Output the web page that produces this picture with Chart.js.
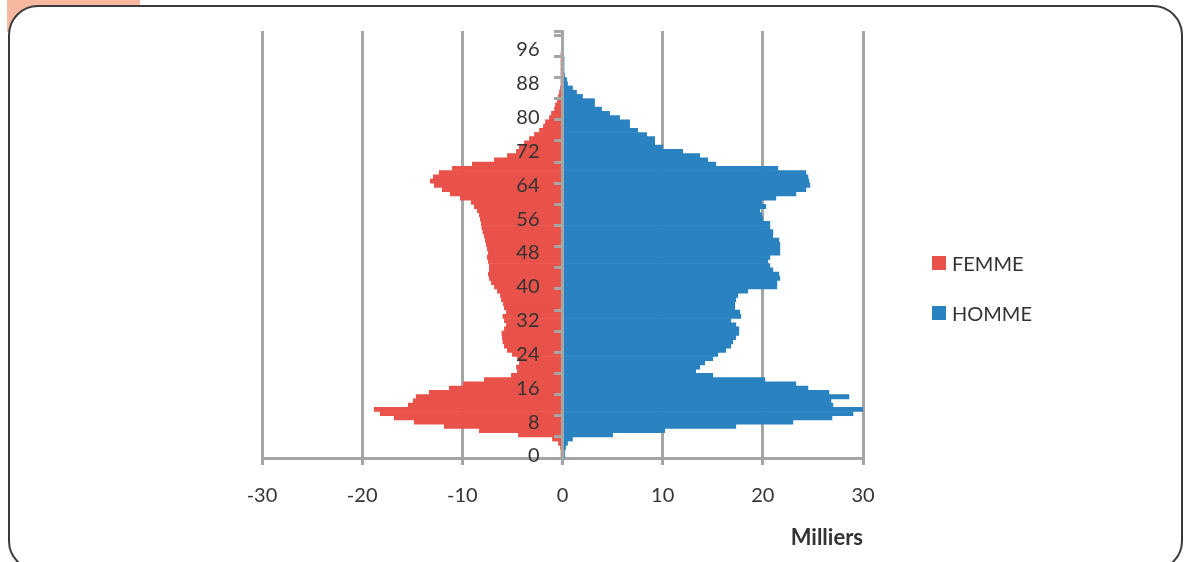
<!DOCTYPE html>
<html>
<head>
<meta charset="utf-8">
<title>Pyramide des âges</title>
<script src="https://cdn.jsdelivr.net/npm/chart.js@4.4.1/dist/chart.umd.min.js"></script>
<style>
  html, body { margin: 0; padding: 0; background: #ffffff; }
  #wrap { position: relative; width: 1190px; height: 562px; overflow: hidden; background: #ffffff; }
  #tab { position: absolute; left: 7px; top: 0; width: 133px; height: 32px; background: #F7B8A0; }
  #frame { position: absolute; left: 8px; top: 5px; width: 1171px; height: 562px;
           border: 2px solid #3a3a3a; border-radius: 30px; background: #ffffff; }
  #c { position: absolute; left: 0; top: 0; }
  #legend { position: absolute; left: 932px; top: 251px; margin: 0; padding: 0; list-style: none;
            font-family: Lato, sans-serif; font-size: 20px; line-height: 24px; color: #333333; }
  #legend li { position: relative; height: 24px; margin: 0 0 26px 0; padding-left: 20px; white-space: nowrap; }
  #legend li span.box { position: absolute; left: 0; top: 5px; width: 14px; height: 14px; }
</style>
</head>
<body>
<div id="wrap">
  <div id="tab"></div>
  <div id="frame"></div>
  <canvas id="c" width="1190" height="562"></canvas>
  <ul id="legend"></ul>
</div>
<script>
// Age groups (single years)
const ages = [
  0, 1, 2, 3, 4, 5, 6, 7, 8, 9, 10, 11, 12, 13, 14, 15, 16, 17, 18, 19,
  20, 21, 22, 23, 24, 25, 26, 27, 28, 29, 30, 31, 32, 33, 34, 35, 36, 37, 38, 39,
  40, 41, 42, 43, 44, 45, 46, 47, 48, 49, 50, 51, 52, 53, 54, 55, 56, 57, 58, 59,
  60, 61, 62, 63, 64, 65, 66, 67, 68, 69, 70, 71, 72, 73, 74, 75, 76, 77, 78, 79,
  80, 81, 82, 83, 84, 85, 86, 87, 88, 89, 90, 91, 92, 93, 94, 95, 96, 97, 98, 99, 100
];

// Women, in thousands (plotted to the left)
const femme = [
  -0.1, -0.15, -0.2, -0.4, -1.0, -4.4, -8.3, -11.8, -14.8, -16.8,
  -18.2, -18.8, -15.4, -14.9, -14.6, -13.3, -11.3, -9.9, -7.8, -5.1,
  -4.5, -4.6, -4.3, -4.5, -5.0, -5.5, -5.8, -5.95, -6.0, -6.05,
  -5.8, -5.6, -5.8, -5.95, -5.6, -5.8, -5.9, -6.1, -6.2, -6.5,
  -6.8, -7.1, -7.3, -7.4, -7.3, -7.3, -7.4, -7.5, -7.4, -7.5,
  -7.6, -7.7, -7.8, -7.95, -8.05, -8.1, -8.2, -8.3, -8.5, -8.8,
  -9.1, -10.2, -11.2, -12.0, -12.8, -13.2, -12.9, -12.3, -11.0, -9.0,
  -6.8, -5.5, -4.6, -4.3, -3.8, -3.3, -2.8, -2.3, -1.9, -1.7,
  -1.3, -1.1, -0.8, -0.7, -0.5, -0.4, -0.3, -0.2, -0.15, -0.1,
  -0.08, -0.05, -0.04, -0.03, -0.02, -0.01, 0, 0, 0, 0, 0
];

// Men, in thousands (plotted to the right)
const homme = [
  0.2, 0.2, 0.3, 0.5, 1.0, 5.0, 10.2, 17.3, 23.0, 26.9,
  29.0, 30.0, 27.0, 26.8, 28.6, 26.6, 24.5, 23.3, 20.2, 15.0,
  13.3, 13.7, 14.2, 15.0, 15.5, 16.3, 16.8, 17.0, 17.3, 17.6,
  17.6, 17.3, 16.8, 17.8, 17.7, 17.2, 17.2, 17.3, 17.5, 18.5,
  21.4, 21.4, 21.7, 21.6, 21.0, 20.7, 20.5, 20.7, 21.7, 21.7,
  21.7, 21.6, 21.0, 21.0, 20.7, 20.7, 20.0, 19.9, 19.7, 20.3,
  19.9, 21.3, 23.3, 24.3, 24.7, 24.6, 24.5, 24.3, 21.5, 15.3,
  14.5, 13.7, 12.0, 10.0, 9.2, 9.2, 8.4, 7.5, 6.7, 6.7,
  5.7, 4.7, 3.9, 3.2, 3.2, 2.0, 1.4, 1.0, 0.5, 0.4,
  0.2, 0.15, 0.1, 0.05, 0.03, 0, 0, 0, 0, 0, 0
];

// Axis tick labels
const ageTickLabels = [0, 8, 16, 24, 32, 40, 48, 56, 64, 72, 80, 88, 96];
const valueTicks = [-30, -20, -10, 0, 10, 20, 30];
const seriesNames = ['FEMME', 'HOMME'];
const axisTitle = 'Milliers';

const RED = '#E8524A';
const BLUE = '#2A82C0';
const GRID = '#A5A5A5';
const TEXT = '#333333';

Chart.defaults.font.family = 'Lato';
Chart.defaults.color = TEXT;

// Legend rendered as an HTML list from the chart's own legend items
const htmlLegend = {
  id: 'htmlLegend',
  afterUpdate(chart) {
    const list = document.getElementById('legend');
    list.innerHTML = '';
    const items = chart.options.plugins.legend.labels.generateLabels(chart);
    items.forEach(item => {
      const li = document.createElement('li');
      const box = document.createElement('span');
      box.className = 'box';
      box.style.background = item.fillStyle;
      li.appendChild(box);
      li.appendChild(document.createTextNode(item.text));
      list.appendChild(li);
    });
  }
};

new Chart(document.getElementById('c'), {
  type: 'bar',
  data: {
    labels: ages,
    datasets: [
      { label: seriesNames[0], data: femme, backgroundColor: RED, borderWidth: 0,
        grouped: false, barPercentage: 1, categoryPercentage: 1 },
      { label: seriesNames[1], data: homme, backgroundColor: BLUE, borderWidth: 0,
        grouped: false, barPercentage: 1, categoryPercentage: 1 }
    ]
  },
  plugins: [htmlLegend],
  options: {
    indexAxis: 'y',
    responsive: false,
    animation: false,
    devicePixelRatio: 1,
    layout: { padding: { left: 262, top: 31, right: 327, bottom: 17 } },
    scales: {
      y: {
        type: 'category',
        reverse: true,
        offset: true,
        position: 'center',
        grid: {
          offset: true,
          drawOnChartArea: false,
          drawTicks: true,
          tickLength: 7,
          lineWidth: 3,
          color: GRID,
          tickColor: GRID,
          tickWidth: (c) => (c.type !== 'tick' || ages[c.index] % 5 === 0) ? 3 : 0,
          z: 1
        },
        border: { display: true, color: GRID, width: 3, z: 1 },
        ticks: {
          autoSkip: false,
          padding: 16,
          z: 1,
          color: TEXT,
          font: { size: 20 },
          callback: (v, i) => ageTickLabels.includes(ages[i]) ? String(ages[i]) : ''
        }
      },
      x: {
        type: 'linear',
        position: 'bottom',
        min: valueTicks[0],
        max: valueTicks[valueTicks.length - 1],
        afterBuildTicks: (s) => { s.ticks = valueTicks.map(v => ({ value: v })); },
        afterFit: (s) => { s.height = 87; },
        grid: { color: GRID, lineWidth: 3, tickLength: 7, tickColor: GRID, tickWidth: 3 },
        border: { display: true, color: GRID, width: 3 },
        ticks: {
          padding: 19,
          color: TEXT,
          font: { size: 20 },
          callback: (v) => String(v)
        },
        title: {
          display: true,
          text: axisTitle,
          align: 'end',
          color: TEXT,
          font: { size: 22, weight: 'bold' },
          padding: { top: 0, bottom: -6 }
        }
      }
    },
    plugins: {
      legend: { display: false },
      tooltip: { enabled: false }
    }
  }
});
</script>
</body>
</html>
